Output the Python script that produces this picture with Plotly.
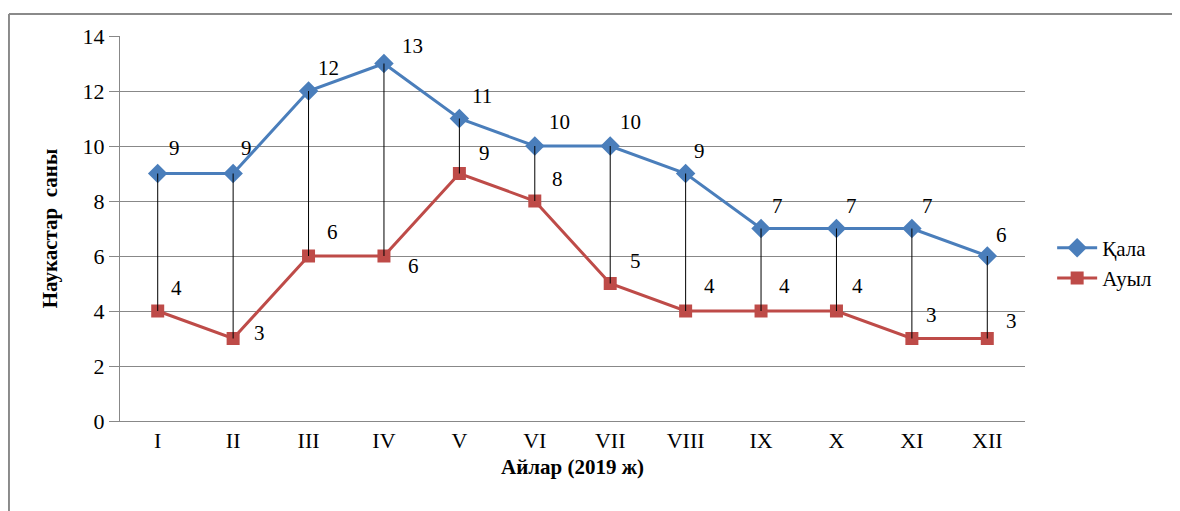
import plotly.graph_objects as go

months = ["I", "II", "III", "IV", "V", "VI", "VII", "VIII", "IX", "X", "XI", "XII"]
kala = [9, 9, 12, 13, 11, 10, 10, 9, 7, 7, 7, 6]
auyl = [4, 3, 6, 6, 9, 8, 5, 4, 4, 4, 3, 3]
y_ticks = [0, 2, 4, 6, 8, 10, 12, 14]

# label offsets in pixels (style only)
kala_off = [(17, 26), (13, 26), (20, 23), (29, 18), (23, 23), (25, 24), (20, 24),
            (14, 23), (16, 23), (15, 23), (16, 23), (14, 21)]
auyl_off = [(19, 23), (26, 6), (24, 24), (30, -10), (25, 21), (23, 22), (25, 23),
            (24, 25), (23, 25), (21, 25), (20, 24), (24, 18)]

BLUE = "#4A7EBB"
RED = "#BE4B48"
FONT = "Liberation Serif"

fig = go.Figure()
fig.add_trace(go.Scatter(x=months, y=kala, name="Қала", mode="lines+markers",
                         line=dict(color=BLUE, width=3),
                         marker=dict(symbol="diamond", size=15, color=BLUE)))
fig.add_trace(go.Scatter(x=months, y=auyl, name="Ауыл", mode="lines+markers",
                         line=dict(color=RED, width=3),
                         marker=dict(symbol="square", size=13, color=RED)))

# high-low lines
hx, hy = [], []
for m, a, b in zip(months, auyl, kala):
    hx += [m, m, None]
    hy += [min(a, b), max(a, b), None]
fig.add_trace(go.Scatter(x=hx, y=hy, mode="lines", showlegend=False,
                         line=dict(color="black", width=1), hoverinfo="skip"))

ann = []
for series, offs in ((kala, kala_off), (auyl, auyl_off)):
    for m, v, (dx, dy) in zip(months, series, offs):
        ann.append(dict(x=m, y=v, text=str(v), showarrow=False, xshift=dx, yshift=dy,
                        font=dict(family=FONT, size=21, color="black")))

fig.update_layout(
    width=1180, height=511,
    margin=dict(l=112, r=163, t=28, b=98),
    paper_bgcolor="white", plot_bgcolor="white",
    font=dict(family=FONT, size=21, color="black"),
    annotations=ann,
    showlegend=True,
    legend=dict(x=1.03, y=0.41, xanchor="left", yanchor="middle",
                font=dict(family=FONT, size=21, color="black"), bgcolor="rgba(0,0,0,0)",
                itemwidth=40, tracegroupgap=0),
    xaxis=dict(type="category", categoryorder="array", categoryarray=months,
               range=[-0.5, 11.5], showgrid=False, showline=True,
               linecolor="#888888", linewidth=1, ticks="",
               tickfont=dict(family=FONT, size=22),
               title=dict(text="<b>Айлар (2019 ж)</b>", font=dict(family=FONT, size=21),
                          standoff=6)),
    yaxis=dict(range=[0, 14], tickvals=y_ticks, showgrid=True, gridcolor="#888888",
               gridwidth=1, showline=True, linecolor="#888888", linewidth=1,
               ticks="outside", ticklen=10, tickcolor="#888888", zeroline=False,
               tickfont=dict(family=FONT, size=22),
               title=dict(text="<b>Наукастар  саны</b>", font=dict(family=FONT, size=21),
                          standoff=19)),
    shapes=[
        dict(type="line", xref="paper", yref="paper", x0=-0.1227, x1=-0.1227,
             y0=-0.3, y1=1.0571, line=dict(color="#8a8a8a", width=2), layer="above"),
        dict(type="line", xref="paper", yref="paper", x0=-0.1227, x1=1.2,
             y0=1.0571, y1=1.0571, line=dict(color="#8a8a8a", width=2), layer="above"),
    ],
)

fig.write_html("out.html")
